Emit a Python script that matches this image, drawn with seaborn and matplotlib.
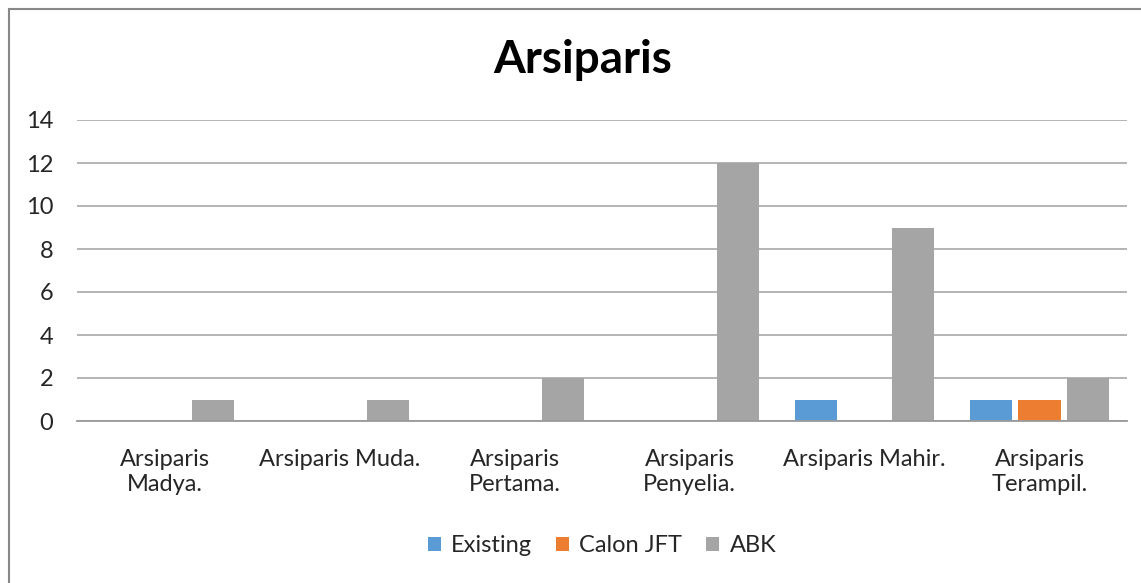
import pandas as pd
import matplotlib.pyplot as plt
import seaborn as sns
from matplotlib.patches import Rectangle

# Data
categories = ['Arsiparis\nMadya.', 'Arsiparis Muda.', 'Arsiparis\nPertama.',
              'Arsiparis\nPenyelia.', 'Arsiparis Mahir.', 'Arsiparis\nTerampil.']
series_names = ['Existing', 'Calon JFT', 'ABK']
existing = [0, 0, 0, 0, 1, 1]
calon_jft = [0, 0, 0, 0, 0, 1]
abk = [1, 1, 2, 12, 9, 2]
colors = ['#5B9BD5', '#ED7D31', '#A5A5A5']

df = pd.DataFrame({
    'kategori': categories * 3,
    'seri': [s for s in series_names for _ in categories],
    'nilai': existing + calon_jft + abk,
})

sns.set_theme(style='white')
plt.rcParams['font.family'] = ['Lato', 'DejaVu Sans']

fig = plt.figure(figsize=(11.41, 5.83), dpi=100)
ax = fig.add_axes([77 / 1141, 1 - 421 / 583, 1050 / 1141, 301 / 583])

sns.barplot(data=df, x='kategori', y='nilai', hue='seri', palette=colors,
            width=0.83, gap=0.12, saturation=1, linewidth=0, ax=ax, legend=True)

ax.set_ylim(0, 14)
ax.set_yticks(range(0, 15, 2))
ax.set_xlim(-0.5, len(categories) - 0.5)
ax.yaxis.grid(True, color='#a0a0a0', linewidth=1.1)
ax.set_axisbelow(True)
for side in ['left', 'right', 'top']:
    ax.spines[side].set_visible(False)
ax.spines['bottom'].set_color('#9a9a9a')
ax.spines['bottom'].set_linewidth(1.3)
ax.tick_params(axis='both', length=0, labelsize=17, colors='#262626')
ax.tick_params(axis='y', pad=17)
ax.tick_params(axis='x', pad=20)
for lbl in ax.get_xticklabels():
    lbl.set_linespacing(1.25)
ax.set_xlabel('')
ax.set_ylabel('')

fig.text(583 / 1141, 1 - 60 / 583, 'Arsiparis', ha='center', va='center',
         fontsize=33, fontweight='bold', color='#000000')

ax.legend(loc='center', bbox_to_anchor=(0.5, (421 - 546) / 301), ncol=3,
          frameon=False, fontsize=17, handlelength=0.55, handleheight=0.55,
          handletextpad=0.45, columnspacing=1.0, labelcolor='#262626')

fig.patches.append(Rectangle((9 / 1141, -0.1), 1.2, 1.1 - 9 / 583,
                             transform=fig.transFigure, fill=False,
                             edgecolor='#888888', linewidth=1.5))

fig.savefig('out.png', dpi=100)
